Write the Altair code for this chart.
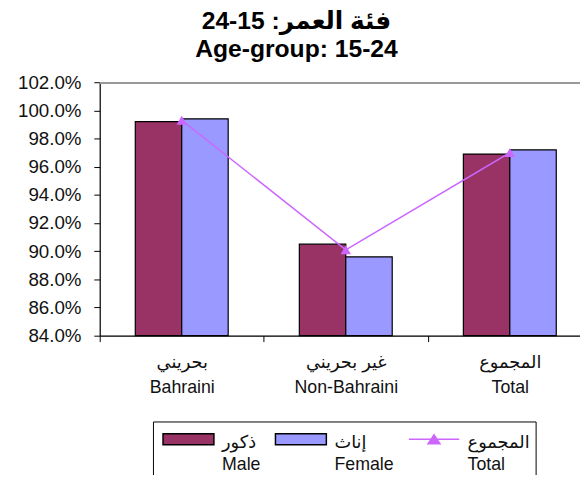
import altair as alt
import pandas as pd

# ---- data ----
categories_en = ["Bahraini", "Non-Bahraini", "Total"]
categories_ar = ["بحريني", "غير بحريني", "المجموع"]
male = [0.992, 0.905, 0.969]
female = [0.994, 0.896, 0.972]
total = [0.993, 0.901, 0.970]
series_en = ["Male", "Female", "Total"]
series_ar = ["ذكور", "إناث", "المجموع"]
y_ticks = [0.84, 0.86, 0.88, 0.90, 0.92, 0.94, 0.96, 0.98, 1.00, 1.02]
title_lines = ["فئة العمر: 15-24", "Age-group: 15-24"]

MALE_C = "#993366"
FEMALE_C = "#9999FF"
TOTAL_C = "#CC66FF"
FONT = "Liberation Sans, DejaVu Sans"

rows = []
for i, c in enumerate(categories_en):
    rows.append({"category": c, "series": "Male", "value": male[i]})
    rows.append({"category": c, "series": "Female", "value": female[i]})
bars_df = pd.DataFrame(rows)
total_df = pd.DataFrame({"category": categories_en, "series": ["Total"] * 3, "value": total})
legend_df = pd.DataFrame({"series": series_en})
frame_df = pd.DataFrame({"value": [y_ticks[-1] - 0.0005]})


def lookup_expr(keys, vals):
    expr = "''"
    for k, v in reversed(list(zip(keys, vals))):
        expr = f"datum.value == '{k}' ? '{v}' : ({expr})"
    return expr


x_label_expr = "[" + lookup_expr(categories_en, categories_ar) + ", datum.value]"
legend_label_expr = "[" + lookup_expr(series_en, series_ar) + ", datum.value]"

W, H = 487, 257

x_enc = alt.X(
    "category:N",
    sort=categories_en,
    scale=alt.Scale(range=[0, 499], paddingInner=0, paddingOuter=0),
    axis=alt.Axis(
        title=None, labelAngle=0, labelExpr=x_label_expr, tickBand="extent",
        tickSize=6, tickColor="black", domainColor="black", domainWidth=1.2,
        labelFont=FONT, labelFontSize=18, labelColor="#111111",
        labelLineHeight=26, labelPadding=12, labelBaseline="top",
    ),
)
y_axis = alt.Axis(
    title=None, values=y_ticks, format=".1%", labelOverlap=False, grid=False,
    tickSize=6, tickColor="black", domainColor="black", domainWidth=1.2,
    labelFont=FONT, labelFontSize=19, labelColor="#111111", labelPadding=13,
)
y_scale = alt.Scale(domain=[y_ticks[0], y_ticks[-1]], nice=False, zero=False)
y_enc = alt.Y("value:Q", scale=y_scale, axis=y_axis)

color_scale = alt.Scale(domain=series_en, range=[MALE_C, FEMALE_C, TOTAL_C])
stroke_scale = alt.Scale(domain=series_en, range=["black", "black", TOTAL_C])
rect_path = "M-1.72,-0.63H1.72V0.1H-1.72Z"
total_path = "M-1.7,-0.26H1.7M-0.4,0.04L0,-0.56L0.4,0.04Z"
shape_scale = alt.Scale(domain=series_en, range=[rect_path, rect_path, total_path])

legend_def = alt.Legend(
    title=None, orient="none", legendX=54, legendY=344, direction="horizontal",
    columns=3, gridAlign="none", symbolSize=900, symbolOffset=14,
    symbolStrokeWidth=1.5, labelExpr=legend_label_expr, labelFont=FONT,
    labelFontSize=18, labelColor="#111111",
    labelBaseline="middle", labelLimit=300, strokeColor="black",
    fillColor="white", padding=6, columnPadding=10, labelOffset=18,
)

bars = alt.Chart(bars_df).mark_bar(stroke="black", strokeWidth=1.2).encode(
    x=x_enc,
    y=y_enc,
    y2=alt.datum(y_ticks[0]),
    xOffset=alt.XOffset("series:N", sort=["Male", "Female"],
                        scale=alt.Scale(paddingOuter=0.766, paddingInner=0)),
    color=alt.Color("series:N", scale=color_scale, legend=legend_def),
)

frame_top = alt.Chart(frame_df).mark_rule(
    color="#999999", strokeWidth=2, opacity=1
).encode(y=y_enc)

line = alt.Chart(total_df).mark_line(color=TOTAL_C, strokeWidth=1.5).encode(
    x=x_enc, y=y_enc
)
pts = alt.Chart(total_df).mark_point(
    shape="triangle-up", filled=True, size=110, color=TOTAL_C, opacity=1
).encode(x=x_enc, y=y_enc)

legend_layer = alt.Chart(legend_df).mark_point(filled=True, opacity=1).encode(
    color=alt.Color("series:N", scale=color_scale, legend=legend_def),
    stroke=alt.Stroke("series:N", scale=stroke_scale, legend=legend_def),
    shape=alt.Shape("series:N", scale=shape_scale, legend=legend_def),
).transform_filter("false")

chart = alt.layer(frame_top, bars, line, pts, legend_layer).properties(
    width=W,
    height=H,
    title=alt.Title(
        text=title_lines, font=FONT, fontSize=25, fontWeight="bold",
        color="black", anchor="middle", frame="group", dx=-44, offset=12,
        lineHeight=28,
    ),
    autosize=alt.AutoSizeParams(type="none"),
    padding={"left": 93, "top": 72, "right": 0, "bottom": 138},
    background="white",
).configure_view(stroke="#999999", strokeWidth=2).configure(
    style={"guide-label": {"lineHeight": 22}}
)

chart.save("out.html", embed_options={"renderer": "svg", "actions": False})
